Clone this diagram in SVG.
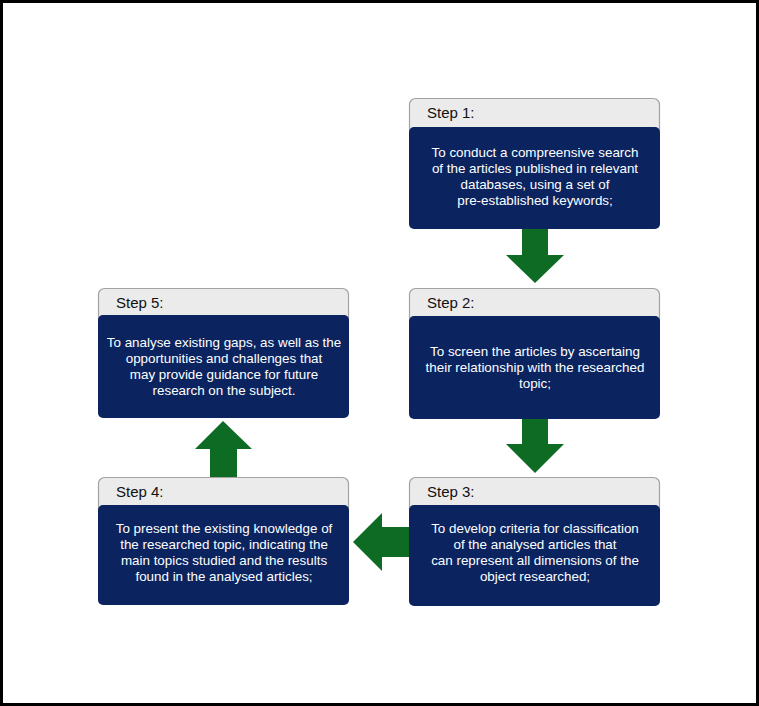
<svg xmlns="http://www.w3.org/2000/svg" width="759" height="706" viewBox="0 0 759 706">
<defs>
<style>
.hdr{fill:#ebebeb;stroke:#a3a3a3;stroke-width:1.2}
.body{fill:#0b245f}
.arrow{fill:#0e6b24}
.ht{font-family:"Liberation Sans",Arial,sans-serif;font-size:15px;fill:#111}
.bt{font-family:"Liberation Sans",Arial,sans-serif;font-size:13.4px;fill:#ffffff;text-anchor:middle}
</style>
</defs>
<rect x="0" y="0" width="759" height="706" fill="#ffffff"/>
<rect x="1.5" y="1.5" width="756" height="703" fill="none" stroke="#000" stroke-width="3"/>

<g id="connectors">
<polygon class="arrow" points="522,228 548,228 548,255 564,255 535,283 506,255 522,255"/>
<polygon class="arrow" points="522,418 548,418 548,444 564,444 535,473 506,444 522,444"/>
<polygon class="arrow" points="410,527 410,557 382,557 382,571 353,542 382,513 382,527"/>
<polygon class="arrow" points="210,478 237,478 237,449 252,449 223,421 195,449 210,449"/>
</g>

<g id="step1">
<rect class="hdr" x="409.5" y="98.5" width="250" height="36" rx="6"/>
<rect class="body" x="409" y="127" width="251" height="102" rx="5"/>
<text class="ht" x="427" y="118">Step 1:</text>
<text class="bt" x="535" y="157">To conduct a compreensive search</text>
<text class="bt" x="535" y="173">of the articles published in relevant</text>
<text class="bt" x="535" y="189">databases, using a set of</text>
<text class="bt" x="535" y="205">pre-established keywords;</text>
</g>

<g id="step2">
<rect class="hdr" x="409.5" y="288.5" width="250" height="36" rx="6"/>
<rect class="body" x="409" y="316" width="251" height="103" rx="5"/>
<text class="ht" x="427" y="308">Step 2:</text>
<text class="bt" x="535" y="356">To screen the articles by ascertaing</text>
<text class="bt" x="535" y="372">their relationship with the researched</text>
<text class="bt" x="535" y="388">topic;</text>
</g>

<g id="step3">
<rect class="hdr" x="409.5" y="477.5" width="250" height="36" rx="6"/>
<rect class="body" x="409" y="505" width="251" height="101" rx="5"/>
<text class="ht" x="427" y="497">Step 3:</text>
<text class="bt" x="535" y="533">To develop criteria for classification</text>
<text class="bt" x="535" y="549">of the analysed articles that</text>
<text class="bt" x="535" y="565">can represent all dimensions of the</text>
<text class="bt" x="535" y="581">object researched;</text>
</g>

<g id="step4">
<rect class="hdr" x="98.5" y="477.5" width="250" height="36" rx="6"/>
<rect class="body" x="98" y="505" width="251" height="100" rx="5"/>
<text class="ht" x="116" y="497">Step 4:</text>
<text class="bt" x="224" y="533">To present the existing knowledge of</text>
<text class="bt" x="224" y="549">the researched topic, indicating the</text>
<text class="bt" x="224" y="565">main topics studied and the results</text>
<text class="bt" x="224" y="581">found in the analysed articles;</text>
</g>

<g id="step5">
<rect class="hdr" x="98.5" y="288.5" width="250" height="36" rx="6"/>
<rect class="body" x="98" y="315" width="251" height="103" rx="5"/>
<text class="ht" x="116" y="308">Step 5:</text>
<text class="bt" x="224" y="347">To analyse existing gaps, as well as the</text>
<text class="bt" x="224" y="363">opportunities and challenges that</text>
<text class="bt" x="224" y="379">may provide guidance for future</text>
<text class="bt" x="224" y="395">research on the subject.</text>
</g>
</svg>
